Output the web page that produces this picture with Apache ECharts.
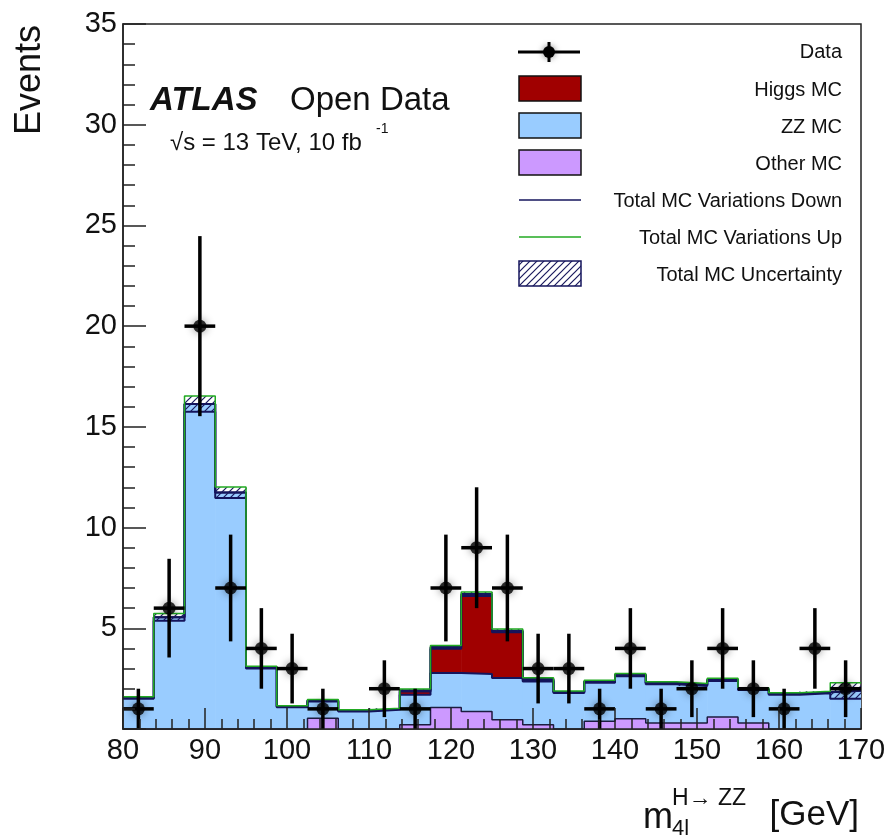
<!DOCTYPE html>
<html>
<head>
<meta charset="utf-8">
<script src="https://cdn.jsdelivr.net/npm/echarts@6/dist/echarts.min.js"></script>
<style>
html, body { margin: 0; padding: 0; background: #fff; }
#main { width: 891px; height: 837px; }
</style>
</head>
<body>
<div id="main"></div>
<script>
// bin edges of the m4l histogram (GeV)
var binEdges = [80, 83.75, 87.5, 91.25, 95, 98.75, 102.5, 106.25, 110, 113.75, 117.5, 121.25,
    125, 128.75, 132.5, 136.25, 140, 143.75, 147.5, 151.25, 155, 158.75, 162.5, 166.25, 170];

// data counts and their error bars
var dataCounts = [1, 6, 20, 7, 4, 3, 1, 0, 2, 1, 7, 9, 7, 3, 3, 1, 4, 1, 2, 4, 2, 1, 4, 2];
var dataErrors = [1, 2.45, 4.47, 2.65, 2, 1.73, 1, 0, 1.41, 1, 2.65, 3, 2.65, 1.73, 1.73, 1, 2, 1, 1.41, 2, 1.41, 1, 2, 1.41];

// MC components (stacked: other, ZZ, Higgs)
var otherMC = [0, 0, 0, 0, 0, 0, 0.53, 0, 0, 0.21, 1.07, 0.87, 0.46, 0.21, 0, 0.38, 0.51, 0.30, 0.30, 0.60, 0.30, 0, 0, 0];
var zzMC = [1.55, 5.55, 16.14, 11.74, 3.06, 1.12, 0.89, 0.91, 0.99, 1.49, 1.71, 1.86, 2.07, 2.15, 1.84, 1.98, 2.18, 1.98, 1.90, 1.85, 1.69, 1.75, 1.82, 1.90];
var higgsMC = [0, 0, 0, 0, 0, 0, 0, 0, 0, 0.22, 1.29, 3.97, 2.35, 0.12, 0, 0, 0, 0, 0, 0, 0, 0, 0, 0];
var mcUnc = [0.05, 0.18, 0.39, 0.27, 0.06, 0.04, 0.05, 0.04, 0.04, 0.06, 0.08, 0.1, 0.08, 0.06, 0.05, 0.06, 0.07, 0.06, 0.06, 0.07, 0.06, 0.05, 0.05, 0.4];

var xTicks = [80, 90, 100, 110, 120, 130, 140, 150, 160, 170];

var cRed = '#a00000', cBlue = '#99ccff', cPurple = '#cc99ff';
var cNavy = '#14145c', cGreen = '#22aa22';

// cumulative tops
var topOther = [], topZZ = [], topAll = [], upVar = [], downVar = [];
for (var i = 0; i < zzMC.length; i++) {
    topOther.push(otherMC[i]);
    topZZ.push(otherMC[i] + zzMC[i]);
    topAll.push(otherMC[i] + zzMC[i] + higgsMC[i]);
    upVar.push(topAll[i] + mcUnc[i]);
    downVar.push(topAll[i] - mcUnc[i]);
}

// hatch pattern for the uncertainty band
var hatch = document.createElement('canvas');
hatch.width = 7; hatch.height = 7;
(function () {
    var ctx = hatch.getContext('2d');
    ctx.strokeStyle = '#1a1a5e';
    ctx.lineWidth = 1.2;
    ctx.beginPath();
    ctx.moveTo(-1, 8); ctx.lineTo(8, -1);
    ctx.moveTo(-4, 4); ctx.lineTo(4, -4);
    ctx.moveTo(3, 11); ctx.lineTo(11, 3);
    ctx.stroke();
})();

function rectData(base, top) {
    var res = [];
    for (var i = 0; i < top.length; i++) {
        var b = base ? base[i] : 0;
        if (top[i] - b > 0) res.push([binEdges[i], binEdges[i + 1], b, top[i]]);
    }
    return res;
}

function stepData(vals) {
    var res = [];
    for (var i = 0; i < vals.length; i++) res.push([binEdges[i], vals[i]]);
    res.push([binEdges[vals.length], vals[vals.length - 1]]);
    return res;
}

function rectSeries(name, data, fill, z) {
    return {
        name: name,
        type: 'custom',
        z: z,
        clip: true,
        encode: { x: [0, 1], y: [2, 3] },
        renderItem: function (params, api) {
            var p1 = api.coord([api.value(0), api.value(3)]);
            var p2 = api.coord([api.value(1), api.value(2)]);
            return {
                type: 'rect',
                shape: { x: p1[0], y: p1[1], width: p2[0] - p1[0] + 0.6, height: p2[1] - p1[1] },
                style: { fill: fill }
            };
        },
        data: data
    };
}

function stepSeries(name, vals, color, width, z) {
    return {
        name: name,
        type: 'line',
        step: 'end',
        z: z,
        symbol: 'none',
        lineStyle: { color: color, width: width },
        data: stepData(vals)
    };
}

var points = [], bars = [];
for (var k = 0; k < dataCounts.length; k++) {
    if (dataCounts[k] > 0) {
        var c = (binEdges[k] + binEdges[k + 1]) / 2;
        points.push([c, dataCounts[k]]);
        bars.push([c, dataCounts[k], binEdges[k], binEdges[k + 1], dataCounts[k] - dataErrors[k], dataCounts[k] + dataErrors[k]]);
    }
}

var myChart = echarts.init(document.getElementById('main'));
var option = {
    animation: false,
    textStyle: { fontFamily: 'Liberation Sans, Arial, sans-serif' },
    grid: {
        left: 123, right: 30, top: 24, bottom: 108,
        show: true, borderColor: '#222', borderWidth: 1.5
    },
    xAxis: {
        type: 'value',
        min: 80, max: 170, interval: 10,
        z: 10,
        axisLine: { lineStyle: { color: '#222', width: 1.5 } },
        axisTick: { inside: true, length: 21, lineStyle: { color: '#222', width: 1.5 } },
        minorTick: { show: true, splitNumber: 5, length: 10, lineStyle: { color: '#222', width: 1.5 } },
        splitLine: { show: false },
        axisLabel: { fontSize: 29, color: '#111', margin: 7, formatter: function (v) { return xTicks.indexOf(v) >= 0 ? v : ''; } }
    },
    yAxis: {
        type: 'value',
        min: 0, max: 35, interval: 5,
        z: 10,
        axisLine: { show: true, lineStyle: { color: '#222', width: 1.5 } },
        axisTick: { show: true, inside: true, length: 23, lineStyle: { color: '#222', width: 1.5 } },
        minorTick: { show: true, splitNumber: 5, length: 12, lineStyle: { color: '#222', width: 1.5 } },
        splitLine: { show: false },
        axisLabel: { fontSize: 29, color: '#111', margin: 6, formatter: function (v) { return v === 0 ? '' : v; } }
    },
    series: [
        rectSeries('Higgs MC', rectData(topZZ, topAll), cRed, 2),
        rectSeries('ZZ MC', rectData(topOther, topZZ), cBlue, 2),
        rectSeries('Other MC', rectData(null, topOther), cPurple, 2),
        stepSeries('Higgs outline', topAll, cNavy, 2, 3),
        stepSeries('ZZ outline', topZZ, cNavy, 2, 3),
        stepSeries('Other outline', topOther, '#1c1c40', 1.5, 3),
        rectSeries('Total MC Uncertainty', rectData(downVar, upVar), { image: hatch, repeat: 'repeat' }, 4),
        stepSeries('Total MC Variations Down', downVar, cNavy, 2, 5),
        stepSeries('Total MC Variations Up', upVar, cGreen, 1.5, 5),
        {
            name: 'Data errors',
            type: 'custom',
            z: 6,
            encode: { x: 0, y: 1 },
            renderItem: function (params, api) {
                var l = api.coord([api.value(2), api.value(1)]);
                var r = api.coord([api.value(3), api.value(1)]);
                var lo = api.coord([api.value(0), Math.max(api.value(4), 0)]);
                var hi = api.coord([api.value(0), api.value(5)]);
                var st = { stroke: '#000', lineWidth: 3.5 };
                return {
                    type: 'group',
                    children: [
                        { type: 'line', shape: { x1: l[0], y1: l[1], x2: r[0], y2: r[1] }, style: st },
                        { type: 'line', shape: { x1: lo[0], y1: lo[1], x2: hi[0], y2: hi[1] }, style: st }
                    ]
                };
            },
            data: bars
        },
        {
            name: 'Data',
            type: 'scatter',
            z: 7,
            symbol: 'circle',
            symbolSize: 13,
            itemStyle: { color: '#000', shadowBlur: 8, shadowColor: 'rgba(0,0,0,0.55)' },
            data: points
        }
    ],
    graphic: [
        // axis titles
        { type: 'text', x: 30, y: 25, rotation: Math.PI / 2,
          style: { text: 'Events', fontSize: 36, fill: '#111', align: 'right', verticalAlign: 'middle', fontFamily: 'Liberation Sans' } },
        { type: 'text', x: 643, y: 818,
          style: { text: 'm', fontSize: 36, fill: '#111', align: 'left', verticalAlign: 'middle', fontFamily: 'Liberation Sans' } },
        { type: 'text', x: 672, y: 799,
          style: { text: 'H\u2192 ZZ', fontSize: 23, fill: '#111', align: 'left', verticalAlign: 'middle', fontFamily: 'Liberation Sans' } },
        { type: 'text', x: 672, y: 829,
          style: { text: '4l', fontSize: 22, fill: '#111', align: 'left', verticalAlign: 'middle', fontFamily: 'Liberation Sans' } },
        { type: 'text', x: 859, y: 815,
          style: { text: '[GeV]', fontSize: 35, fill: '#111', align: 'right', verticalAlign: 'middle', fontFamily: 'Liberation Sans' } },
        // ATLAS label
        { type: 'text', x: 150, y: 101,
          style: { text: 'ATLAS', fontSize: 33, fontWeight: 'bold', fontStyle: 'italic', fill: '#111', verticalAlign: 'middle', fontFamily: 'Liberation Sans' } },
        { type: 'text', x: 290, y: 101,
          style: { text: 'Open Data', fontSize: 33, fill: '#111', verticalAlign: 'middle', fontFamily: 'Liberation Sans' } },
        { type: 'text', x: 170, y: 143,
          style: { text: '\u221As = 13 TeV, 10 fb', fontSize: 24, fill: '#111', verticalAlign: 'middle', fontFamily: 'Liberation Sans' } },
        { type: 'text', x: 376, y: 129,
          style: { text: '-1', fontSize: 14, fill: '#111', verticalAlign: 'middle', fontFamily: 'Liberation Sans' } },
        // legend
        { type: 'line', shape: { x1: 518, y1: 52, x2: 580, y2: 52 }, style: { stroke: '#000', lineWidth: 3 } },
        { type: 'line', shape: { x1: 549, y1: 42, x2: 549, y2: 62 }, style: { stroke: '#000', lineWidth: 3 } },
        { type: 'circle', shape: { cx: 549, cy: 52, r: 6 }, style: { fill: '#000', shadowBlur: 6, shadowColor: 'rgba(0,0,0,0.5)' } },
        { type: 'rect', shape: { x: 519, y: 76, width: 62, height: 25 }, style: { fill: cRed, stroke: '#111', lineWidth: 1.5 } },
        { type: 'rect', shape: { x: 519, y: 113, width: 62, height: 25 }, style: { fill: cBlue, stroke: '#111', lineWidth: 1.5 } },
        { type: 'rect', shape: { x: 519, y: 150, width: 62, height: 25 }, style: { fill: cPurple, stroke: '#111', lineWidth: 1.5 } },
        { type: 'line', shape: { x1: 519, y1: 200, x2: 581, y2: 200 }, style: { stroke: cNavy, lineWidth: 1.5 } },
        { type: 'line', shape: { x1: 519, y1: 237, x2: 581, y2: 237 }, style: { stroke: cGreen, lineWidth: 1.5 } },
        { type: 'rect', shape: { x: 519, y: 261, width: 62, height: 25 }, style: { fill: { image: hatch, repeat: 'repeat' }, stroke: cNavy, lineWidth: 1.5 } },
        { type: 'text', x: 842, y: 52, style: { text: 'Data', fontSize: 20, fill: '#111', align: 'right', verticalAlign: 'middle', fontFamily: 'Liberation Sans' } },
        { type: 'text', x: 842, y: 90, style: { text: 'Higgs MC', fontSize: 20, fill: '#111', align: 'right', verticalAlign: 'middle', fontFamily: 'Liberation Sans' } },
        { type: 'text', x: 842, y: 127, style: { text: 'ZZ MC', fontSize: 20, fill: '#111', align: 'right', verticalAlign: 'middle', fontFamily: 'Liberation Sans' } },
        { type: 'text', x: 842, y: 164, style: { text: 'Other MC', fontSize: 20, fill: '#111', align: 'right', verticalAlign: 'middle', fontFamily: 'Liberation Sans' } },
        { type: 'text', x: 842, y: 201, style: { text: 'Total MC Variations Down', fontSize: 20, fill: '#111', align: 'right', verticalAlign: 'middle', fontFamily: 'Liberation Sans' } },
        { type: 'text', x: 842, y: 238, style: { text: 'Total MC Variations Up', fontSize: 20, fill: '#111', align: 'right', verticalAlign: 'middle', fontFamily: 'Liberation Sans' } },
        { type: 'text', x: 842, y: 275, style: { text: 'Total MC Uncertainty', fontSize: 20, fill: '#111', align: 'right', verticalAlign: 'middle', fontFamily: 'Liberation Sans' } }
    ]
};
if (option && typeof option === "object") {
    myChart.setOption(option, true);
}
</script>
</body>
</html>
